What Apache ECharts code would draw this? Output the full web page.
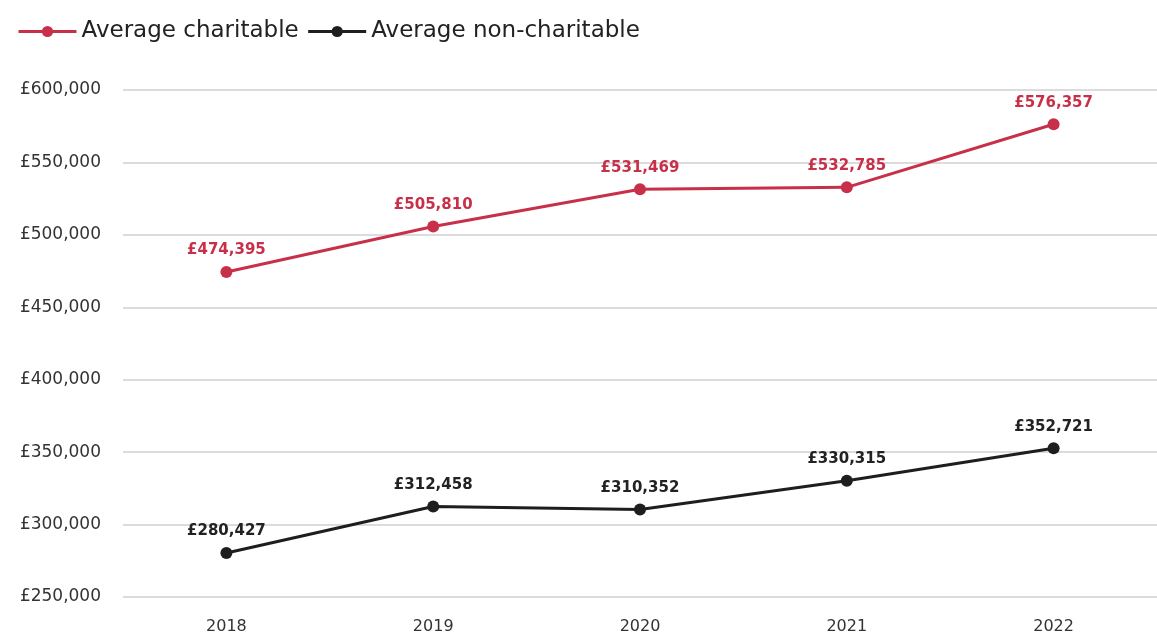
<!DOCTYPE html>
<html><head><meta charset="utf-8">
<script src="https://cdn.jsdelivr.net/npm/echarts@6/dist/echarts.min.js"></script>
<style>html,body{margin:0;padding:0;background:#fff}#c{width:1157px;height:635px}</style>
</head><body><div id="c"></div>
<script>
const categories = ['2018','2019','2020','2021','2022'];
const charitable = [474395, 505810, 531469, 532785, 576357];
const nonCharitable = [280427, 312458, 310352, 330315, 352721];
const seriesNames = ['Average charitable', 'Average non-charitable'];

const fmt = v => '£' + v.toLocaleString('en-GB');
const FONT = '"DejaVu Sans", sans-serif';
const chart = echarts.init(document.getElementById('c'));
chart.setOption({
  animation: false,
  textStyle: { fontFamily: FONT },
  legend: {
    left: 12, top: 15, itemWidth: 58, itemHeight: 14, itemGap: 8,
    lineStyle: { width: 3 },
    textStyle: { fontSize: 23, color: '#222', fontFamily: FONT },
    data: seriesNames
  },
  grid: { left: 123, right: 0, top: 90, bottom: 38 },
  xAxis: {
    type: 'category', data: categories, boundaryGap: true,
    axisLine: { show: false }, axisTick: { show: false },
    axisLabel: { fontSize: 16, color: '#333', margin: 22 }
  },
  yAxis: {
    type: 'value', min: 250000, max: 600000, interval: 50000,
    axisLine: { show: false },
    axisTick: { show: false },
    splitLine: { lineStyle: { color: '#dcdcdc', width: 2 } },
    axisLabel: { fontSize: 17, color: '#333', margin: 22, formatter: fmt }
  },
  series: [
    {
      name: seriesNames[0], type: 'line', data: charitable,
      symbol: 'circle', symbolSize: 12,
      lineStyle: { color: '#c8304a', width: 3 },
      itemStyle: { color: '#c8304a' },
      label: { show: true, position: 'top', distance: 8, color: '#c8304a', fontSize: 15, fontWeight: 'bold', formatter: p => fmt(p.value) }
    },
    {
      name: seriesNames[1], type: 'line', data: nonCharitable,
      symbol: 'circle', symbolSize: 12,
      lineStyle: { color: '#1e1e1e', width: 3 },
      itemStyle: { color: '#1e1e1e' },
      label: { show: true, position: 'top', distance: 8, color: '#222', fontSize: 15, fontWeight: 'bold', formatter: p => fmt(p.value) }
    }
  ]
});
</script></body></html>
